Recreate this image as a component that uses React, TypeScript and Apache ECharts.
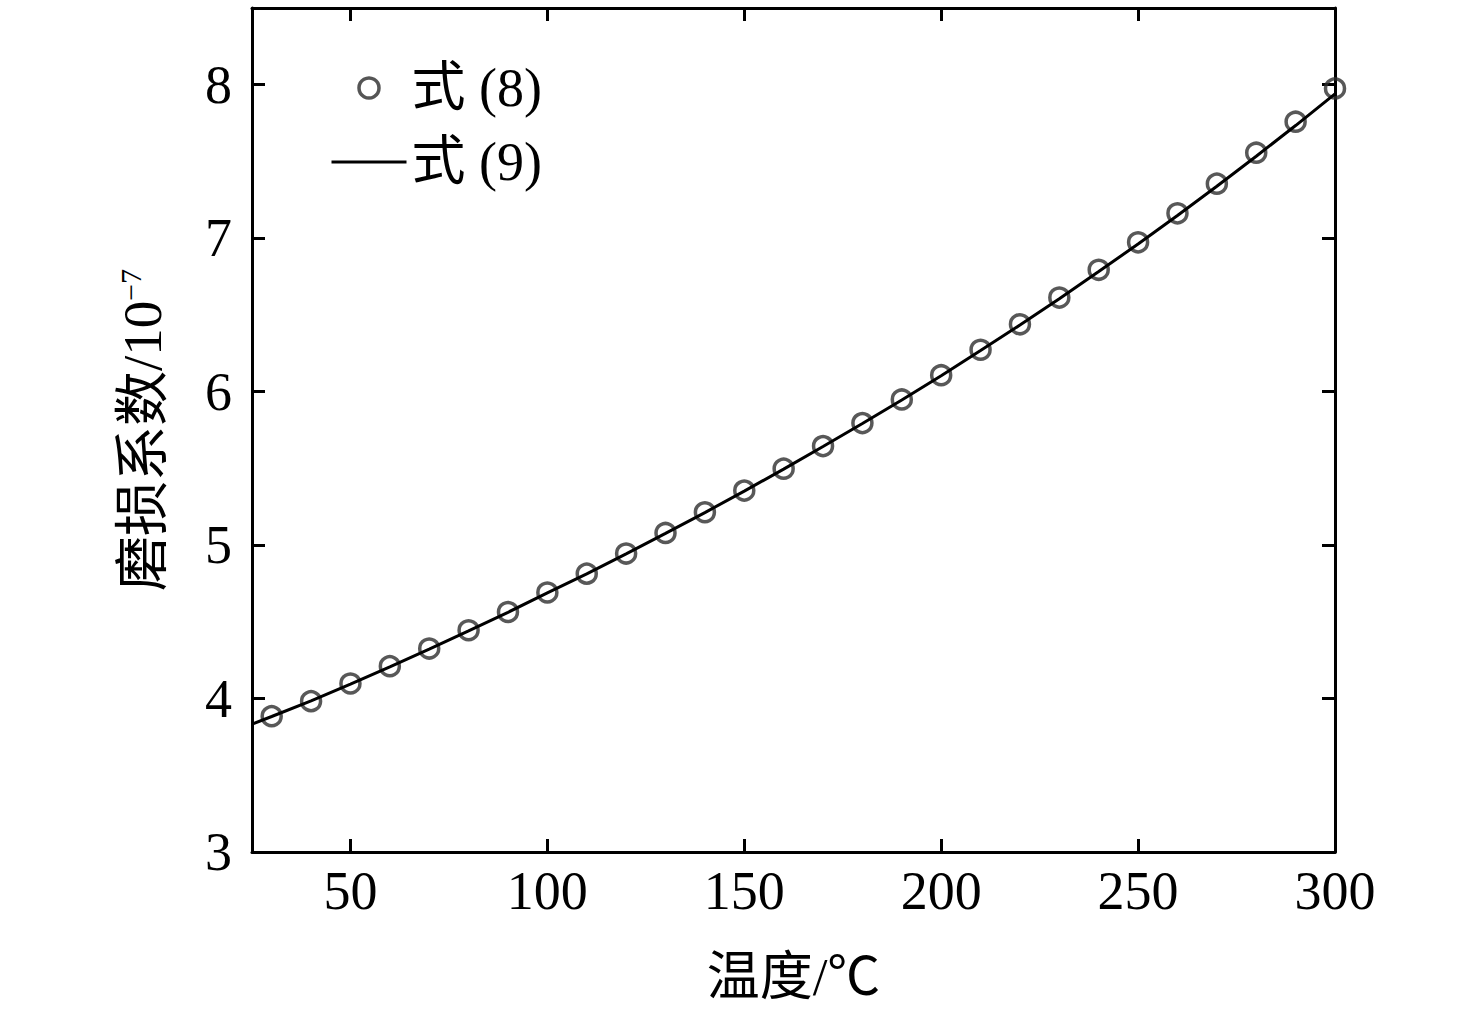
import React, { useEffect, useRef } from "react";
import * as echarts from "echarts";

const temperatures = [30, 40, 50, 60, 70, 80, 90, 100, 110, 120, 130, 140, 150, 160, 170, 180, 190, 200, 210, 220, 230, 240, 250, 260, 270, 280, 290, 300];
const eq8Values = [3.885, 3.983, 4.098, 4.211, 4.326, 4.445, 4.564, 4.691, 4.814, 4.945, 5.079, 5.214, 5.355, 5.498, 5.645, 5.795, 5.949, 6.107, 6.273, 6.439, 6.613, 6.794, 6.973, 7.162, 7.355, 7.557, 7.759, 7.976];
const lineTemperatures = [25, 30, 40, 50, 60, 70, 80, 90, 100, 110, 120, 130, 140, 150, 160, 170, 180, 190, 200, 210, 220, 230, 240, 250, 260, 270, 280, 290, 300];
const eq9Values = [3.833, 3.883, 3.985, 4.094, 4.207, 4.322, 4.441, 4.562, 4.688, 4.812, 4.943, 5.076, 5.212, 5.352, 5.495, 5.642, 5.792, 5.946, 6.104, 6.268, 6.434, 6.606, 6.783, 6.962, 7.148, 7.338, 7.534, 7.734, 7.94];
const xTicks = [50, 100, 150, 200, 250, 300];
const yTicks = [3, 4, 5, 6, 7, 8];
const seriesNames = ["式 (8)", "式 (9)"];
const xName = "温度/℃";
const yNameMain = "磨损系数/10";
const yNameSup = "−7";

const FONT = "'Liberation Serif', 'Noto Sans CJK SC', serif";

export default function App() {
  const ref = useRef<HTMLDivElement>(null);
  useEffect(() => {
    if (!ref.current) return;
    const chart = echarts.init(ref.current, null, { renderer: "svg" });
    const axisLine = { show: true, lineStyle: { color: "#000", width: 3 } };
    const tick = { show: true, inside: true, length: 13, lineStyle: { color: "#000", width: 3 } };
    const option: any = {
      animation: false,
      backgroundColor: "#fff",
      grid: { left: 252, top: 8, right: 141, bottom: 170, containLabel: false },
      legend: {
        orient: "vertical",
        left: 330,
        top: 61,
        itemWidth: 75,
        itemHeight: 20,
        itemGap: 20,
        padding: 0,
        textStyle: { fontFamily: FONT, fontSize: 54, color: "#000" },
        data: [
          { name: seriesNames[0], itemStyle: { color: "rgba(0,0,0,0)", borderColor: "#2a2a2a", borderWidth: 3.5 } },
          { name: seriesNames[1], itemStyle: { opacity: 0 }, lineStyle: { color: "#000", width: 3 } },
        ],
      },
      xAxis: [
        {
          type: "value",
          min: 25,
          max: 300,
          name: xName,
          nameLocation: "middle",
          nameGap: 98,
          nameTextStyle: { fontFamily: FONT, fontSize: 53, color: "#000" },
          axisLine,
          axisTick: { ...tick, customValues: xTicks },
          axisLabel: { customValues: xTicks, fontFamily: FONT, fontSize: 54, color: "#000", margin: 12 },
          splitLine: { show: false },
        },
        {
          type: "value",
          position: "top",
          min: 25,
          max: 300,
          axisLine,
          axisTick: { ...tick, customValues: xTicks },
          axisLabel: { show: false, customValues: xTicks },
          splitLine: { show: false },
        },
      ],
      yAxis: [
        {
          type: "value",
          min: 3,
          max: 8.5,
          name: `{a|${yNameMain}}{s|${yNameSup}}`,
          nameLocation: "middle",
          nameGap: 82,
          nameTextStyle: {
            fontFamily: FONT,
            color: "#000",
            rich: {
              a: { fontFamily: FONT, fontSize: 55, color: "#000" },
              s: { fontFamily: FONT, fontSize: 30, color: "#000", verticalAlign: "top", padding: [0, 0, 20, 0] },
            },
          },
          axisLine,
          axisTick: { ...tick, customValues: yTicks },
          axisLabel: { customValues: yTicks, fontFamily: FONT, fontSize: 54, color: "#000", margin: 20 },
          splitLine: { show: false },
        },
        {
          type: "value",
          position: "right",
          min: 3,
          max: 8.5,
          axisLine,
          axisTick: { ...tick, customValues: yTicks },
          axisLabel: { show: false, customValues: yTicks },
          splitLine: { show: false },
        },
      ],
      series: [
        {
          name: seriesNames[0],
          type: "scatter",
          symbol: "circle",
          symbolSize: 19,
          itemStyle: { color: "rgba(0,0,0,0)", borderColor: "#2e2e2e", borderWidth: 3.5 },
          data: temperatures.map((t, i) => [t, eq8Values[i]]),
          z: 2,
        },
        {
          name: seriesNames[1],
          type: "line",
          showSymbol: false,
          symbol: "none",
          smooth: false,
          lineStyle: { color: "#000", width: 3 },
          itemStyle: { color: "#000" },
          data: lineTemperatures.map((t, i) => [t, eq9Values[i]]),
          z: 3,
        },
      ],
    };
    chart.setOption(option);
    return () => chart.dispose();
  }, []);
  return <div ref={ref} style={{ position: "absolute", left: 0, top: 0, width: 1476, height: 1022 }} />;
}
